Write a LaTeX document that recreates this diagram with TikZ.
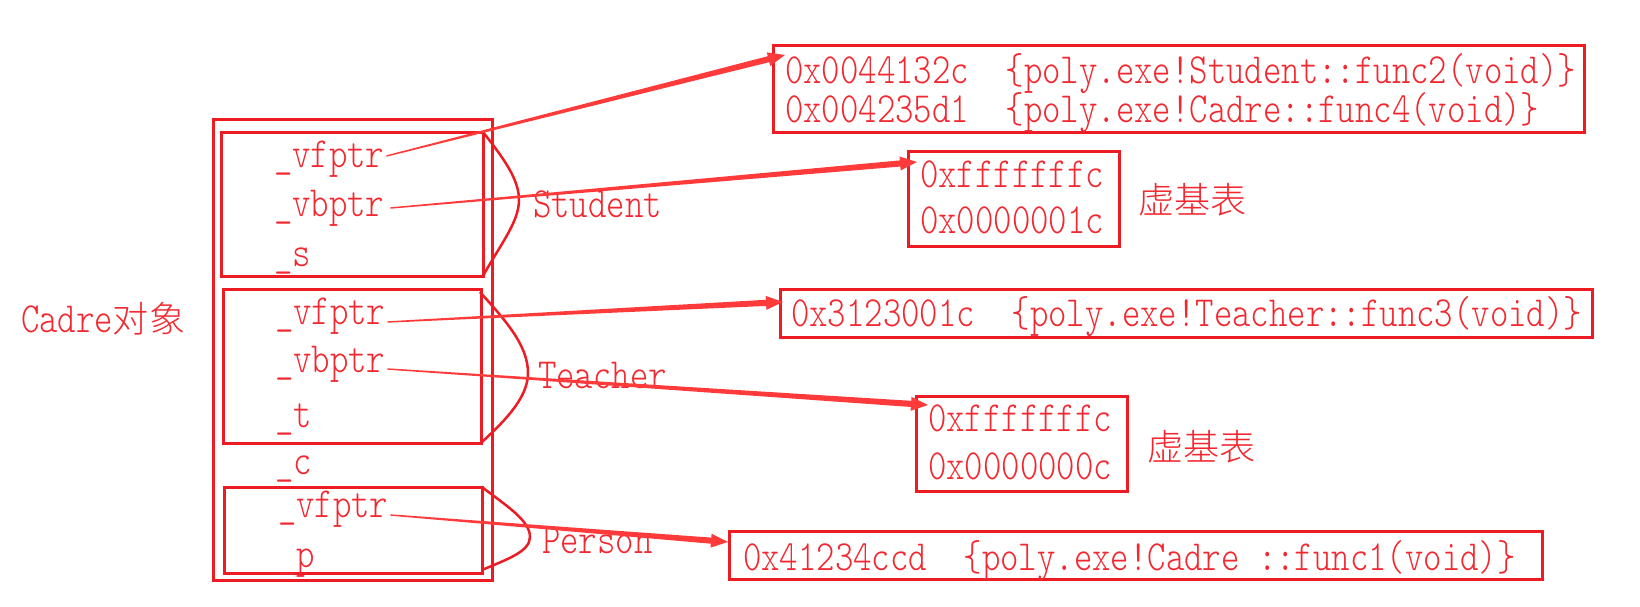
\documentclass[tikz,border=0pt]{standalone}
\usepackage{fontspec}
\setmainfont{Latin Modern Mono Light}[FakeStretch=0.815]
\newfontfamily\cjk{Noto Sans CJK SC Light}[Scale=0.84]
\usetikzlibrary{calc}
\definecolor{boxred}{RGB}{237,28,36}
\definecolor{txtred}{RGB}{242,40,48}
\definecolor{linered}{RGB}{255,58,58}
\newcommand\ptrarrow[2]{%
  \coordinate (hb) at ($(#2)!17pt!(#1)$);
  \coordinate (he) at ($(#2)!12pt!(#1)$);
  \fill[linered] ($(#1)!0.7pt!90:(#2)$) -- ($(he)!3.1pt!-90:(#1)$)
     -- ($(he)!3.1pt!90:(#1)$) -- ($(#1)!0.7pt!-90:(#2)$) -- cycle;
  \fill[linered] (#2) -- ($(hb)!7pt!90:(#1)$) -- ($(hb)!7pt!-90:(#1)$) -- cycle;
}
\begin{document}
\begin{tikzpicture}[x=1pt,y=-1pt,
  every node/.style={inner sep=0pt, outer sep=0pt, text=txtred,
     font=\fontsize{43}{47}\selectfont},
  frame/.style={draw=boxred, line width=3pt},
  lbl/.style={anchor=base west},
  bulge/.style={draw=boxred, line width=2.5pt},
]
\useasboundingbox (0,0) rectangle (1640,606);

% object frames
\node[frame, minimum width=279pt, minimum height=461pt] (outer) at (352.5,349.5) {};
\node[frame, minimum width=262pt, minimum height=144pt] (stu) at (352,204) {};
\node[frame, minimum width=258pt, minimum height=154pt] (tea) at (352,366) {};
\node[frame, minimum width=258pt, minimum height=86pt] (per) at (353,530) {};

% tables
\node[frame, minimum width=811pt, minimum height=87pt] (vts) at (1178.5,88.5) {};
\node[frame, minimum width=211pt, minimum height=95pt] (vbs) at (1013.5,198.5) {};
\node[frame, minimum width=812pt, minimum height=48pt] (vtt) at (1186,313) {};
\node[frame, minimum width=211pt, minimum height=95pt] (vbt) at (1021.5,443.5) {};
\node[frame, minimum width=813pt, minimum height=48pt] (vtp) at (1135.5,555) {};

% bulges
\draw[bulge] (stu.north east) .. controls (505,160) and (519,180) .. (519,200)
   .. controls (519,222) and (500,245) .. (stu.south east);
\draw[bulge] ($(tea.north east)+(-1,3)$) .. controls (505,320) and (528,345) .. (528,373)
   .. controls (528,400) and (500,425) .. (tea.south east);
\draw[bulge] (per.north east) .. controls (505,505) and (530,520) .. (530,537)
   .. controls (530,552) and (505,560) .. ($(per.south east)+(0,-3)$);

% members
\node[lbl] (s1) at (274,167) {\_vfptr};
\node[lbl] (s2) at (274,216) {\_vbptr};
\node[lbl] (s3) at (274,266) {\_s};
\node[lbl] (t1) at (275,324) {\_vfptr};
\node[lbl] (t2) at (275,372) {\_vbptr};
\node[lbl] (t3) at (275,427) {\_t};
\node[lbl] (c1) at (275,474) {\_c};
\node[lbl] (p1) at (278,517) {\_vfptr};
\node[lbl] (p2) at (278,567) {\_p};

% labels
\node[lbl] (lcadre) at (21,332) {Cadre{\cjk 对象}};
\node[lbl] (lstu) at (533,217) {Student};
\node[lbl] (ltea) at (538,388) {Teacher};
\node[lbl] (lper) at (542,553) {Person};

% table contents
\node[lbl] (vts1) at (785,83) {0x0044132c\ \ \{poly.exe!Student::func2(void)\}};
\node[lbl] (vts2) at (785,122) {0x004235d1\ \ \{poly.exe!Cadre::func4(void)\}};
\node[lbl] (vbs1) at (920,187) {0xfffffffc};
\node[lbl] (vbs2) at (920,233) {0x0000001c};
\node[anchor=west] (lvbs) at (1138,200) {\cjk 虚基表};
\node[lbl] (vtt1) at (791,326) {0x3123001c\ \ \{poly.exe!Teacher::func3(void)\}};
\node[lbl] (vbt1) at (928,431) {0xfffffffc};
\node[lbl] (vbt2) at (928,479) {0x0000000c};
\node[anchor=west] (lvbt) at (1147,447) {\cjk 虚基表};
\node[lbl] (vtp1) at (743,570) {0x41234ccd\ \ \{poly.exe!Cadre ::func1(void)\}};

% connector ends
\coordinate (a1) at ($(s1.base east)+(2,-11)$);
\coordinate (a2) at ($(s2.base east)+(6,-8)$);
\coordinate (a3) at ($(t1.base east)+(2,-2)$);
\coordinate (a4) at ($(t2.base east)+(2,-3)$);
\coordinate (a5) at ($(p1.base east)+(2,-2)$);
\coordinate (b1) at ($(vts.north west)+(12,10)$);
\coordinate (b2) at ($(vbs.north west)+(9,11)$);
\coordinate (b3) at ($(vtt.north west)+(3,13)$);
\coordinate (b4) at ($(vbt.north west)+(12,9)$);
\coordinate (b5) at ($(vtp.north west)+(-1,11)$);

\ptrarrow{a1}{b1}
\ptrarrow{a2}{b2}
\ptrarrow{a3}{b3}
\ptrarrow{a4}{b4}
\ptrarrow{a5}{b5}
\end{tikzpicture}
\end{document}
